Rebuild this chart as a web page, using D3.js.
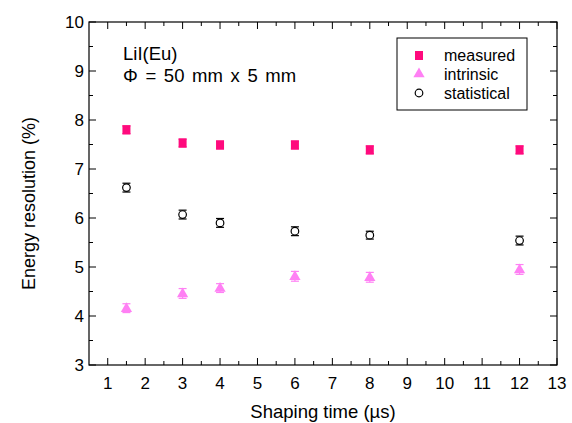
<!DOCTYPE html>
<html>
<head>
<meta charset="utf-8">
<script src="https://cdn.jsdelivr.net/npm/d3@7"></script>
<style>
  body { margin: 0; background: #fff; }
  text { font-family: "Liberation Sans", Arial, sans-serif; fill: #000; }
</style>
</head>
<body>
<svg id="chart" width="572" height="423"></svg>
<script>
// Shaping times (µs) and energy resolution (%) for each contribution
const shapingTimes = [1.5, 3, 4, 6, 8, 12];
const measured     = [7.80, 7.53, 7.49, 7.49, 7.39, 7.39];
const measuredErr  = [0.08, 0.08, 0.08, 0.08, 0.08, 0.08];
const intrinsic    = [4.16, 4.46, 4.57, 4.81, 4.79, 4.95];
const intrinsicErr = [0.09, 0.10, 0.09, 0.10, 0.10, 0.10];
const statistical  = [6.62, 6.07, 5.90, 5.73, 5.65, 5.54];
const statisticalErr = [0.09, 0.09, 0.09, 0.09, 0.08, 0.09];
const xTicks = d3.range(1, 14);
const yTicks = d3.range(3, 11);

const svg = d3.select("#chart");
const L = 89, R = 557, T = 22, B = 365;
const x = d3.scaleLinear().domain([0.5, 13]).range([L, R]);
const y = d3.scaleLinear().domain([3, 10]).range([B, T]);

const colMeasured = "#ff0a7d";
const colIntrinsic = "#ff80f4";

// frame
svg.append("rect").attr("x", L).attr("y", T).attr("width", R - L).attr("height", B - T)
  .attr("fill", "none").attr("stroke", "#000").attr("stroke-width", 1.2);

const g = svg.append("g");
const major = 7, minor = 4;
const xMinor = d3.range(1.5, 13, 1);
const yMinor = d3.range(3.5, 10, 1);

// ticks on all four sides, pointing inward
xTicks.forEach(v => {
  g.append("line").attr("x1", x(v)).attr("x2", x(v)).attr("y1", B).attr("y2", B - major).attr("stroke", "#000");
  g.append("line").attr("x1", x(v)).attr("x2", x(v)).attr("y1", T).attr("y2", T + major).attr("stroke", "#000");
  g.append("text").attr("x", x(v)).attr("y", B + 24).attr("text-anchor", "middle")
    .attr("font-size", 17).text(v);
});
xMinor.forEach(v => {
  g.append("line").attr("x1", x(v)).attr("x2", x(v)).attr("y1", B).attr("y2", B - minor).attr("stroke", "#000");
  g.append("line").attr("x1", x(v)).attr("x2", x(v)).attr("y1", T).attr("y2", T + minor).attr("stroke", "#000");
});
yTicks.forEach(v => {
  g.append("line").attr("x1", L).attr("x2", L + major).attr("y1", y(v)).attr("y2", y(v)).attr("stroke", "#000");
  g.append("line").attr("x1", R).attr("x2", R - major).attr("y1", y(v)).attr("y2", y(v)).attr("stroke", "#000");
  g.append("text").attr("x", L - 5).attr("y", y(v) + 6).attr("text-anchor", "end")
    .attr("font-size", 17).text(v);
});
yMinor.forEach(v => {
  g.append("line").attr("x1", L).attr("x2", L + minor).attr("y1", y(v)).attr("y2", y(v)).attr("stroke", "#000");
  g.append("line").attr("x1", R).attr("x2", R - minor).attr("y1", y(v)).attr("y2", y(v)).attr("stroke", "#000");
});

// axis titles
svg.append("text").attr("x", (L + R) / 2).attr("y", 418).attr("text-anchor", "middle")
  .attr("font-size", 18.5).text("Shaping time (\u00b5s)");
svg.append("text").attr("transform", `translate(35,${(T + B) / 2 + 10}) rotate(-90)`)
  .attr("text-anchor", "middle").attr("font-size", 18).text("Energy resolution (%)");

// sample annotation
svg.append("text").attr("x", 123).attr("y", 60).attr("font-size", 18.5).text("LiI(Eu)");
svg.append("text").attr("x", 123).attr("y", 82).attr("font-size", 18.5)
  .attr("word-spacing", 2.5).text("\u03a6 = 50 mm x 5 mm");

// error bars with caps
function errorBars(vals, errs, color) {
  const eg = svg.append("g").attr("stroke", color).attr("stroke-width", 1.2);
  shapingTimes.forEach((t, i) => {
    const cx = x(t), y1 = y(vals[i] + errs[i]), y2 = y(vals[i] - errs[i]);
    eg.append("line").attr("x1", cx).attr("x2", cx).attr("y1", y1).attr("y2", y2);
    eg.append("line").attr("x1", cx - 4).attr("x2", cx + 4).attr("y1", y1).attr("y2", y1);
    eg.append("line").attr("x1", cx - 4).attr("x2", cx + 4).attr("y1", y2).attr("y2", y2);
  });
}
errorBars(measured, measuredErr, colMeasured);
errorBars(intrinsic, intrinsicErr, colIntrinsic);
errorBars(statistical, statisticalErr, "#000");

const tri = d3.symbol().type(d3.symbolTriangle).size(55);

// measured: slightly tall filled rectangles
svg.append("g").selectAll("rect").data(shapingTimes).join("rect")
  .attr("x", d => x(d) - 4).attr("y", (d, i) => y(measured[i]) - 4.5)
  .attr("width", 8).attr("height", 9).attr("fill", colMeasured);
svg.append("g").selectAll("path").data(shapingTimes).join("path")
  .attr("d", tri).attr("fill", colIntrinsic)
  .attr("transform", (d, i) => `translate(${x(d)},${y(intrinsic[i]) + 0.5})`);
svg.append("g").selectAll("circle").data(shapingTimes).join("circle")
  .attr("cx", d => x(d)).attr("cy", (d, i) => y(statistical[i])).attr("r", 3.8)
  .attr("fill", "#fff").attr("stroke", "#000").attr("stroke-width", 1.2);

// legend
const lg = svg.append("g");
lg.append("rect").attr("x", 397).attr("y", 38).attr("width", 130).attr("height", 72)
  .attr("fill", "#fff").attr("stroke", "#000").attr("stroke-width", 1);
const lx = 419, tx = 444;
lg.append("rect").attr("x", lx - 4).attr("y", 51).attr("width", 8).attr("height", 9).attr("fill", colMeasured);
lg.append("path").attr("d", tri).attr("fill", colIntrinsic).attr("transform", `translate(${lx},74)`);
lg.append("circle").attr("cx", lx).attr("cy", 93).attr("r", 3.8).attr("fill", "#fff")
  .attr("stroke", "#000").attr("stroke-width", 1.2);
[["measured", 55], ["intrinsic", 74], ["statistical", 93]].forEach(([t, yy]) => {
  lg.append("text").attr("x", tx).attr("y", yy + 5.5).attr("font-size", 16).text(t);
});
</script>
</body>
</html>
